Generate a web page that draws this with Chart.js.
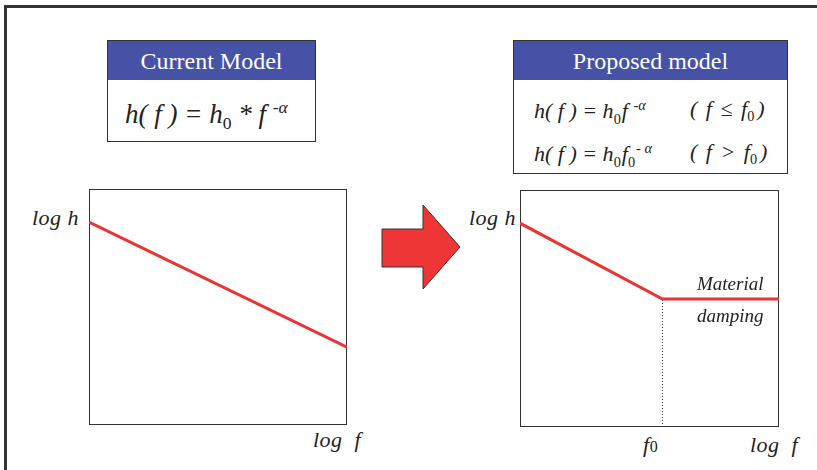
<!DOCTYPE html>
<html>
<head>
<meta charset="utf-8">
<script src="https://cdn.jsdelivr.net/npm/chart.js@4"></script>
<style>
body{margin:0;width:817px;height:470px;background:#fff;position:relative;overflow:hidden;font-family:"Liberation Serif",serif;color:#222}
.frame{position:absolute;left:4px;top:5px;width:830px;height:480px;border-top:3px solid #333;border-left:3px solid #333}
.box{position:absolute;border:1px solid #333;background:#fff}
.head{background:#4552a6;color:#fff;text-align:center;height:39px;line-height:40px;font-size:24px}
.eq{position:absolute;white-space:nowrap;font-style:italic;line-height:1;font-family:"Liberation Serif",serif}
.eq sub,.eq sup{font-style:normal;font-size:65%}
.eq sup{font-style:italic}
.lbl{position:absolute;font-style:italic;font-size:22px;white-space:nowrap;line-height:22px;letter-spacing:0.5px}
canvas{position:absolute}
</style>
</head>
<body>
<div class="frame"></div>

<div class="box" style="left:107px;top:40px;width:207px;height:100px">
  <div class="head">Current Model</div>
  <div class="eq" style="left:17px;top:58px;font-size:27px">h( f ) = h<sub>0</sub> * f <sup>-&#945;</sup></div>
</div>

<div class="box" style="left:513px;top:40px;width:273px;height:132px">
  <div class="head">Proposed model</div>
  <div class="eq" style="left:20px;top:57px;font-size:22px">h( f ) = h<sub style="margin-right:1px">0</sub>f <sup>-&#945;</sup></div>
  <div class="eq" style="left:176px;top:57px;font-size:22px;word-spacing:3px">( f &#8804; f<sub>0</sub><span style="margin-left:3px">)</span></div>
  <div class="eq" style="left:20px;top:100px;font-size:22px">h( f ) = h<sub style="margin-right:1px">0</sub>f<sub>0</sub><sup style="margin-left:1px">- &#945;</sup></div>
  <div class="eq" style="left:176px;top:100px;font-size:22px;word-spacing:3px">( f &gt; f<sub>0</sub><span style="margin-left:3px">)</span></div>
</div>

<svg style="position:absolute;left:0;top:0" width="817" height="470">
  <polygon points="382,229 423,229 423,205 460,247 423,289 423,267 382,267" fill="#ef3636" stroke="#333" stroke-width="1"/>
</svg>

<canvas id="left" width="258" height="236" style="left:89px;top:189px"></canvas>
<canvas id="right" width="259" height="237" style="left:520px;top:190px"></canvas>

<div class="lbl" style="left:32px;top:207px">log h</div>
<div class="lbl" style="left:313px;top:429px">log&nbsp; f</div>
<div class="lbl" style="left:469px;top:207px">log h</div>
<div class="lbl" style="left:643px;top:434px">f<span style="font-style:normal;font-size:16px">0</span></div>
<div class="lbl" style="left:750px;top:434px">log&nbsp; f</div>
<div class="lbl" style="left:697px;top:273px;font-size:19px;letter-spacing:0">Material</div>
<div class="lbl" style="left:697px;top:305px;font-size:19px;letter-spacing:0">damping</div>

<script>
// current model: straight power law
let leftX = [0, 10]
let leftY = [8.6, 3.3]

// proposed model: power law up to f0, then flat
let rightX = [0, 5.5, 10]
let rightY = [8.6, 5.4, 5.4]

// dotted marker at f0
let kneeX = [5.5, 5.5]
let kneeY = [0, 5.4]

function pts(xs, ys){
  return xs.map((x,i)=>({x:x, y:ys[i]}))
}

let boxPlugin = {
  id:"box",
  beforeDatasetsDraw(chart){
    let a = chart.chartArea
    let ctx = chart.ctx
    ctx.save()
    ctx.strokeStyle = "#333"
    ctx.lineWidth = 1
    ctx.strokeRect(a.left+0.5, a.top+0.5, a.right-a.left-1, a.bottom-a.top-1)
    ctx.restore()
  }
}

function makeChart(id, datasets){
  return new Chart(document.getElementById(id), {
    type:"line",
    data:{datasets:datasets},
    options:{
      responsive:false,
      animation:false,
      layout:{padding:0},
      plugins:{legend:{display:false}, tooltip:{enabled:false}},
      scales:{
        x:{type:"linear", min:0, max:10, display:false},
        y:{min:0, max:10, display:false}
      }
    },
    plugins:[boxPlugin]
  })
}

makeChart("left", [{
  data:pts(leftX, leftY),
  borderColor:"#ea3434",
  borderWidth:3,
  pointRadius:0,
  clip:false
}])

makeChart("right", [{
  data:pts(rightX, rightY),
  borderColor:"#ea3434",
  borderWidth:3,
  pointRadius:0,
  clip:false
},{
  data:pts(kneeX, kneeY),
  borderColor:"#333",
  borderWidth:1,
  borderDash:[1,2],
  pointRadius:0
}])
</script>
</body>
</html>
